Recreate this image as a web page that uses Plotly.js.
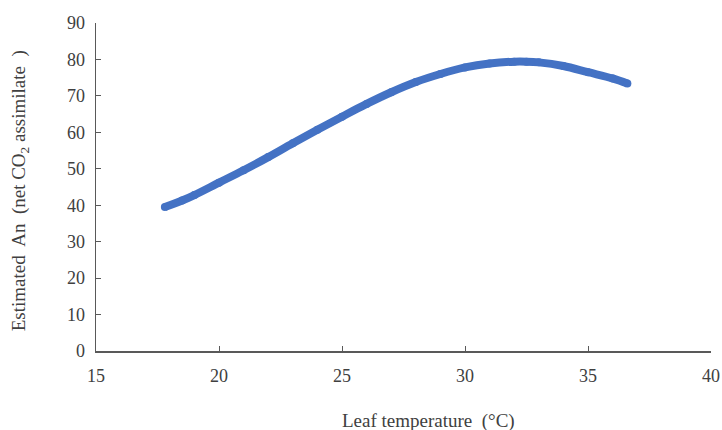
<!DOCTYPE html>
<html>
<head>
<meta charset="utf-8">
<script src="https://cdn.plot.ly/plotly-3.0.1.min.js"></script>
<style>html,body{margin:0;padding:0;background:#fff;}#chart{width:722px;height:430px;}</style>
</head>
<body>
<div id="chart"></div>
<script>
var leafTemp = [17.8, 18.5, 19, 20, 21, 22, 23, 24, 25, 26, 27, 28, 29, 30, 31, 32, 32.5, 33, 34, 35, 36, 36.6];
var estimatedAn = [39.5, 41.3, 42.8, 46.2, 49.6, 53.2, 57.0, 60.7, 64.3, 67.8, 71.0, 73.8, 76.0, 77.8, 78.9, 79.4, 79.4, 79.2, 78.2, 76.5, 74.8, 73.4];
var xTicks = [15, 20, 25, 30, 35, 40];
var yTicks = [0, 10, 20, 30, 40, 50, 60, 70, 80, 90];

var serif = 'Liberation Serif, Times New Roman, serif';
var trace = {
  x: leafTemp, y: estimatedAn, type: 'scatter', mode: 'lines+markers',
  line: {color: '#4472C4', width: 8, shape: 'spline'},
  marker: {color: '#4472C4', size: 8},
  hoverinfo: 'none'
};
var axisFont = {family: serif, size: 18, color: '#404040'};
var layout = {
  width: 722, height: 430,
  margin: {l: 96, r: 11, t: 23, b: 79},
  paper_bgcolor: '#fff', plot_bgcolor: '#fff',
  showlegend: false,
  xaxis: {
    range: [15, 40], tickvals: xTicks, ticktext: xTicks.map(String),
    showgrid: false, zeroline: false, showline: true, linecolor: '#595959', linewidth: 1.5,
    ticks: 'inside', ticklen: 5, tickcolor: '#595959', tickfont: axisFont,
    ticklabelstandoff: 8
  },
  yaxis: {
    range: [0, 90], tickvals: yTicks, ticktext: yTicks.map(String),
    showgrid: false, zeroline: false, showline: true, linecolor: '#595959', linewidth: 1.5,
    ticks: 'inside', ticklen: 5, tickcolor: '#595959', tickfont: axisFont,
    ticklabelstandoff: 6
  },
  annotations: [{
    text: 'Leaf temperature  (°C)', xref: 'paper', yref: 'paper', x: 0.54, y: -0.213,
    xanchor: 'center', yanchor: 'middle', showarrow: false,
    font: {family: serif, size: 19, color: '#404040'}
  }, {
    text: 'Estimated  An  (net CO<sub>2</sub> assimilate  )', xref: 'paper', yref: 'paper', x: -0.1236, y: 0.49,
    xanchor: 'center', yanchor: 'middle', showarrow: false, textangle: -90,
    font: {family: serif, size: 19, color: '#404040'}
  }]
};
Plotly.newPlot('chart', [trace], layout, {staticPlot: true, displayModeBar: false});
</script>
</body>
</html>
